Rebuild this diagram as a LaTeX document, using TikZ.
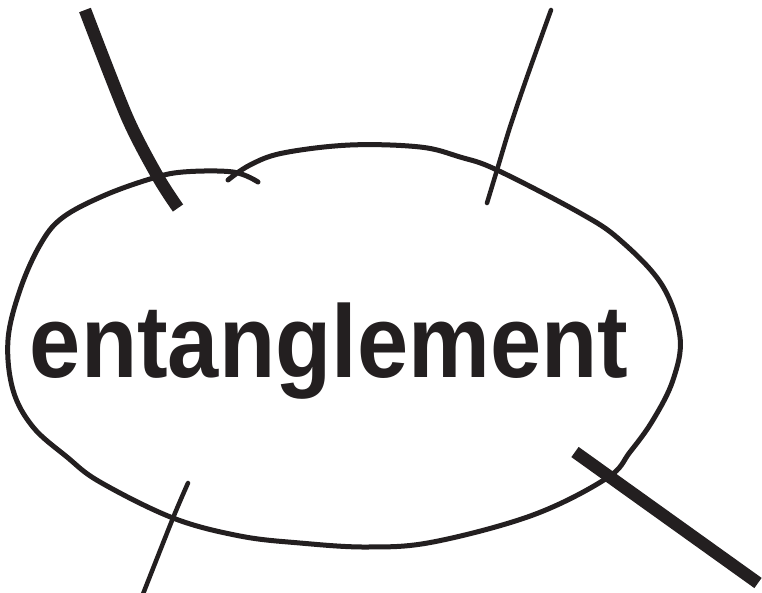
\documentclass[tikz,border=0pt]{standalone}
\usepackage{fontspec}
\newfontfamily\handfont{Liberation Sans}
\definecolor{ink}{HTML}{231F20}
\begin{document}
\begin{tikzpicture}[x=1pt,y=-1pt,
  pen/.style={draw=ink,line width=5pt,line cap=round,line join=round},
  thickpen/.style={draw=ink,line width=12.5pt,line cap=butt},
  thinpen/.style={draw=ink,line width=4.5pt,line cap=round}]
\useasboundingbox (0,0) rectangle (762,592);
% loop (two overlapping strokes)
\draw[pen] plot[smooth,tension=0.6] coordinates {
 (258,182) (233,172) (183,172) (150,179) (103,196) (62,218) (40,245) (20,290) (8,340)
 (13,390) (33,427) (67,457) (100,482) (173,518) (240,536) (300,543) (367,547)
 (433,542) (533,515) (607,478) (630,452) (653,420) (673,380) (680,337) (662,285)
 (620,240) (580,213) (497,170) (460,157) (420,147) (350,145) (283,153) (250,165) (228,180)};
% text
\node[inner sep=0pt,anchor=base,text=ink,yscale=1.12] (word) at (329,377)
  {\fontsize{92}{92}\handfont\bfseries entanglement};
% outgoing strokes
\coordinate (a1) at (85,10);  \coordinate (a2) at (178,208);
\draw[thickpen] plot[smooth] coordinates {(a1) (127,117) (158,177) (a2)};
\coordinate (b1) at (551,10); \coordinate (b2) at (487,203);
\draw[thinpen] plot[smooth] coordinates {(b1) (527,77) (510,127) (497,170) (b2)};
\coordinate (c1) at (188,483); \coordinate (c2) at (143,594);
\draw[thinpen] plot[smooth] coordinates {(c1) (173,518) (c2)};
\coordinate (d1) at (575,452); \coordinate (d2) at (758,583);
\draw[thickpen] (d1) -- (d2);
\end{tikzpicture}
\end{document}
